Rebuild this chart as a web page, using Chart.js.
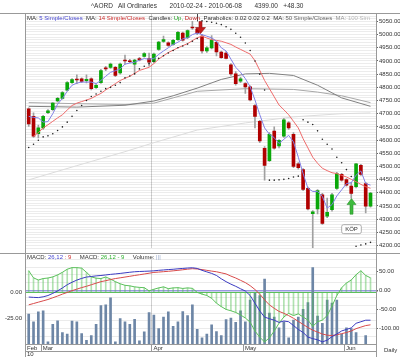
<!DOCTYPE html>
<html><head><meta charset="utf-8">
<script src="https://cdn.jsdelivr.net/npm/chart.js@4.4.1/dist/chart.umd.min.js"></script>
<style>
html,body{margin:0;padding:0;background:#fff;}
body{width:400px;height:357px;position:relative;overflow:hidden;font-family:"Liberation Sans",Arial,sans-serif;}
.t{position:absolute;white-space:pre;font-size:6px;line-height:7px;color:#333;}
.hl{position:absolute;height:1px;background:#999;}
.vl{position:absolute;width:1px;background:#999;}
canvas{position:absolute;left:0;}
</style></head><body>
<canvas id="c1" width="400" height="253" style="top:0"></canvas>
<canvas id="c2" width="400" height="104" style="top:253px"></canvas>
<div class="hl" style="top:13px;left:0;width:400px"></div>
<div class="hl" style="top:253px;left:0;width:400px"></div>
<div class="hl" style="top:344px;left:25px;width:351px"></div>
<div class="hl" style="top:351px;left:25px;width:351px"></div>
<div class="vl" style="left:25px;top:13px;height:344px"></div>
<div class="vl" style="left:376px;top:13px;height:344px"></div>
<div class="t" style="top:2px;left:91px;font-size:6.5px">^AORD   All Ordinaries       2010-02-24 - 2010-06-08       4399.00   +48.30</div>
<div class="t" style="top:15px;left:27px">MA: <span style="color:#4646d0">5 Simple/Closes</span>  MA: <span style="color:#d03030">14 Simple/Closes</span>  Candles: <span style="color:#20a020">Up,</span> <span style="color:#c02020">Down</span>  Parabolics: 0.02 0.02 0.2  MA: <span style="color:#666">50 Simple/Closes</span>  <span style="color:#999">MA: </span><span style="color:#bbb">100 Sim</span></div>
<div class="t" style="top:254px;left:27px">MACD: <span style="color:#4646d0">26,12</span> <span style="color:#d03030">: 9</span>     MACD: <span style="color:#30b030">26,12 - 9</span>     Volume: <span style="color:#99aacc">|||</span></div>
<div class="t" style="top:351px;left:27px">10</div>
<div class="t" style="top:347px;left:384px">Daily</div>
<script>
// ---- price data (index 0 = 2010-02-24 ... 71 = 2010-06-08) ----
const opens  = [4718,4690,4624,4646,4704,4715,4748,4758,4789,4818,4830,4832,4825,4832,4799,4818,4872,4876,4876,4855,4901,4901,4888,4909,4917,4909,4897,4944,4974,4969,4963,4981,5006,4988,5029,5021,4994,4938,4950,4971,4934,4930,4885,4851,4823,4814,4802,4731,4671,4569,4522,4634,4578,4615,4665,4622,4510,4488,4417,4321,4339,4392,4311,4336,4417,4470,4450,4425,4423,4504,4435,4349];
const highs  = [4722,4703,4657,4694,4716,4742,4762,4784,4822,4833,4847,4836,4847,4836,4812,4868,4880,4892,4880,4892,4922,4906,4906,4914,4932,4930,4930,4975,4994,4973,4982,5012,5010,5018,5050,5025,5000,4955,4996,4975,4938,4936,4890,4860,4838,4818,4806,4735,4675,4575,4628,4650,4602,4682,4670,4628,4515,4492,4422,4332,4412,4398,4380,4398,4478,4474,4454,4440,4512,4508,4440,4402];
const lows   = [4652,4610,4608,4640,4700,4712,4745,4755,4786,4815,4814,4818,4817,4790,4796,4815,4863,4872,4840,4850,4888,4894,4851,4900,4914,4880,4893,4940,4970,4955,4960,4978,4975,4985,5020,5000,4930,4932,4946,4919,4910,4908,4845,4808,4818,4777,4748,4646,4590,4448,4518,4565,4570,4610,4640,4495,4490,4408,4335,4192,4320,4280,4306,4330,4413,4444,4425,4380,4418,4466,4324,4345];
const closes = [4661,4615,4646,4690,4711,4740,4758,4780,4818,4829,4828,4822,4830,4795,4808,4864,4870,4888,4845,4888,4900,4897,4903,4904,4928,4895,4926,4972,4981,4959,4978,5009,4979,5015,5025,5006,4938,4950,4979,4934,4913,4910,4851,4814,4832,4802,4752,4690,4597,4504,4622,4569,4599,4677,4646,4500,4495,4413,4339,4328,4408,4284,4326,4392,4473,4448,4429,4398,4510,4470,4349,4399];
const ma5    = [4690,4686,4684,4668,4670,4700,4736,4758,4785,4808,4816,4820,4820,4820,4814,4826,4842,4857,4863,4870,4888,4892,4895,4903,4909,4907,4909,4925,4938,4950,4963,4971,4984,4988,5000,5006,5000,4994,4988,4975,4950,4938,4907,4876,4857,4833,4802,4752,4696,4646,4622,4609,4587,4603,4618,4593,4535,4473,4417,4405,4405,4386,4342,4355,4388,4411,4435,4438,4467,4483,4435,4429];
const ma14   = [null,4615,4628,4646,4658,4671,4684,4696,4714,4731,4740,4746,4752,4758,4768,4777,4790,4802,4814,4826,4834,4842,4853,4864,4870,4876,4890,4907,4920,4932,4941,4950,4958,4966,4977,4988,4994,4987,4981,4978,4975,4969,4963,4953,4944,4935,4926,4901,4864,4826,4795,4764,4733,4715,4696,4671,4646,4605,4570,4535,4512,4493,4484,4476,4473,4466,4460,4451,4442,4432,4423,4417];
const sar    = [4572,4584,4599,4612,4616,4624,4636,4650,4668,4690,4712,4731,4750,4765,4775,4785,4795,4800,4808,4818,4836,4843,4851,4870,4880,4890,4900,4910,4920,4930,4940,4950,4957,4964,4975,4985,5052,5050,5047,5043,5038,5030,5020,5005,4990,4968,4940,4900,4850,4790,4448,4448,4449,4451,4454,4460,4463,4677,4668,4659,4635,4603,4584,4566,4535,4514,4488,4462,4197,4202,4206,4212];
const ma50Idx  = [0,10,20,26,30,35,40,45,50,55,60,65,71];
const ma50Val  = [4728,4725,4732,4748,4768,4797,4830,4851,4853,4845,4808,4760,4728];
const ma100Idx = [0,10,20,26,30,35,45,55,60,65,71];
const ma100Val = [4742,4738,4735,4740,4760,4785,4795,4792,4782,4768,4742];
const ma200Idx = [0,10,20,26,35,45,55,65,71];
const ma200Val = [4449,4503,4556,4590,4638,4665,4688,4700,4703];
// ---- lower panel ----
const macd   = [-17.6,-18.5,-19,-17,-13.7,-8,-1.6,6,14.5,21,26.6,31,34.5,36,37.5,38.6,40,41.5,42.7,44,45.5,47,48.3,49,49.5,50,50.7,52,53,54,54.8,56,57,58,58.7,57,52,48,44,38.6,30,22.5,16,10.4,4,-2,-13.7,-33.8,-53.9,-70,-74,-78,-83.7,-80,-82,-91.8,-102,-110,-122,-126,-129,-134.5,-130,-120.8,-114,-106,-102,-98,-86,-82,-78,-78];
const signal = [-37.9,-34.5,-31,-27.5,-24,-19.5,-15,-10,-5.6,-1,3,7,10.4,14.5,18.5,22.5,25,28,30.6,32.5,34.5,36.5,38.6,40.5,42.5,44.5,46.6,47.5,48.5,49.5,50.7,52,53.5,55,56.3,55.5,54,52,50,48.3,45.5,42.7,37,32,26,20,12,2,-10,-25,-38,-47,-55,-60,-66,-73,-81,-89,-97,-104,-109,-114,-117,-118,-116,-113,-110,-106,-100,-96,-92,-90];
const hist   = [20.5,13.7,11.6,13,13.5,14.6,16.5,19,22,23.5,23.5,23,19,14.6,13.4,13,14.5,12.5,10,8,6.5,6,5,4.5,4.2,1.2,2.7,4,5,3.3,4,4.2,3.5,4,3.6,-0.3,-2,-3.3,-6,-10.7,-14,-16.7,-18,-19.6,-22,-25,-29,-37.5,-43.5,-48,-44,-37.5,-30,-24,-20.5,-22.6,-21,-24,-27,-33,-28.6,-27,-22.6,-13.6,-3.3,4.2,8.7,11.6,16.7,20.5,16,13.7];
const volume = [323,240,347,357,23,213,250,123,107,247,240,113,40,90,213,413,423,497,23,273,240,213,267,33,130,340,313,167,290,347,190,240,350,307,423,157,67,107,207,133,90,263,280,233,357,240,473,547,523,700,333,290,173,240,67,257,290,373,447,823,300,223,473,440,473,107,173,167,123,null,90,null];
// ---- axis / label data ----
const priceTicks = {min:4190, max:5080, step:10, labelEvery:50};
const monthNames = ['Feb','Mar','Apr','May','Jun'];
const monthStarts = [-0.77, 2.5, 25.5, 44.5, 65.5];
const quarterLine = 25.5;
const buyIdx = 67, buyTip = 4378, buyBase = 4319, buyLabelVal = 4262, buyLabel = 'KÖP';
const sellIdx = 35.6, sellTip = 5004, sellTop = 5050, sellLineTop = 5080;

const X_MIN = -0.77, X_MAX = 72.14;
const pts = (arr) => arr.map((v, i) => ({x: i, y: v}));
const sparse = (ix, vals) => ix.map((i, k) => ({x: i, y: vals[k]}));

const annot = {
  id: 'annot',
  afterDatasetsDraw(chart) {
    const {ctx, scales: {x, y}} = chart;
    ctx.save();
    const ax = Math.round(x.getPixelForValue(buyIdx)) + 0.5;
    const yt = y.getPixelForValue(buyTip), yb = y.getPixelForValue(buyBase);
    ctx.fillStyle = '#3dbb3d'; ctx.strokeStyle = '#2a8f2a'; ctx.lineWidth = 0.6;
    ctx.beginPath();
    ctx.moveTo(ax, yt); ctx.lineTo(ax + 4.5, yt + 6); ctx.lineTo(ax + 1.5, yt + 6);
    ctx.lineTo(ax + 1.5, yb); ctx.lineTo(ax - 1.5, yb); ctx.lineTo(ax - 1.5, yt + 6);
    ctx.lineTo(ax - 4.5, yt + 6); ctx.closePath(); ctx.fill(); ctx.stroke();
    const ky = y.getPixelForValue(buyLabelVal);
    ctx.font = '6px "Liberation Sans", Arial';
    const w = ctx.measureText(buyLabel).width + 7, h = 9;
    ctx.beginPath();
    ctx.roundRect(ax - w / 2, ky - h / 2, w, h, 2);
    ctx.fillStyle = '#fff'; ctx.fill(); ctx.strokeStyle = '#999'; ctx.lineWidth = 0.8; ctx.stroke();
    ctx.fillStyle = '#333'; ctx.textAlign = 'center'; ctx.textBaseline = 'middle';
    ctx.fillText(buyLabel, ax, ky + 0.5);
    const sx = Math.round(x.getPixelForValue(sellIdx)) + 0.5;
    const st = y.getPixelForValue(sellTop), sb = y.getPixelForValue(sellTip), sl = y.getPixelForValue(sellLineTop);
    ctx.strokeStyle = '#444'; ctx.lineWidth = 1;
    ctx.beginPath(); ctx.moveTo(sx - 3, sl); ctx.lineTo(sx - 3, st); ctx.stroke();
    ctx.fillStyle = '#c41a1a'; ctx.strokeStyle = '#8a0c0c'; ctx.lineWidth = 0.6;
    ctx.beginPath();
    ctx.moveTo(sx, sb); ctx.lineTo(sx + 5, sb - 6); ctx.lineTo(sx + 1.5, sb - 6);
    ctx.lineTo(sx + 1.5, st); ctx.lineTo(sx - 1.5, st); ctx.lineTo(sx - 1.5, sb - 6);
    ctx.lineTo(sx - 5, sb - 6); ctx.closePath(); ctx.fill(); ctx.stroke();
    ctx.restore();
  }
};

const seps = {
  id: 'seps',
  afterDraw(chart) {
    const {ctx, scales: {x}, chartArea} = chart;
    ctx.save(); ctx.strokeStyle = '#999'; ctx.lineWidth = 1;
    monthStarts.slice(1).forEach(v => {
      const px = Math.round(x.getPixelForValue(v)) + 0.5;
      ctx.beginPath(); ctx.moveTo(px, chartArea.bottom); ctx.lineTo(px, chartArea.bottom + 7); ctx.stroke();
    });
    ctx.restore();
  }
};

const font6 = {family: '"Liberation Sans", Arial, sans-serif', size: 6};

new Chart(document.getElementById('c1'), {
  type: 'bar',
  data: {datasets: [
    {type: 'line', data: sparse(ma200Idx, ma200Val), borderColor: '#dcdcdc', borderWidth: 1, pointRadius: 0, order: 8},
    {type: 'line', data: sparse(ma100Idx, ma100Val), borderColor: '#a8a8a8', borderWidth: 1, pointRadius: 0, order: 7},
    {type: 'line', data: sparse(ma50Idx, ma50Val), borderColor: '#808080', borderWidth: 1, pointRadius: 0, order: 6},
    {type: 'bar', data: lows.map((l, i) => ({x: i, y: [l, highs[i]]})), backgroundColor: '#a0a0a0', barThickness: 1, grouped: false, order: 5},
    {type: 'bar', data: opens.map((o, i) => ({x: i, y: [o, closes[i]]})),
      backgroundColor: opens.map((o, i) => closes[i] >= o ? '#0aa80a' : '#b00000'),
      barThickness: 3, grouped: false, minBarLength: 1, order: 4},
    {type: 'line', data: pts(ma14), borderColor: '#ee6a6a', borderWidth: 1, pointRadius: 0, order: 3},
    {type: 'line', data: pts(ma5), borderColor: '#8080e6', borderWidth: 1, pointRadius: 0, order: 2},
    {type: 'line', data: pts(sar), showLine: false, pointRadius: 0.8, pointBorderWidth: 0, pointBackgroundColor: '#222', order: 1}
  ]},
  options: {
    responsive: false, animation: false, events: [],
    layout: {padding: {left: 25, top: 13, right: 0, bottom: 0}},
    plugins: {legend: {display: false}, tooltip: {enabled: false}},
    scales: {
      x: {type: 'linear', offset: false, min: X_MIN, max: X_MAX, ticks: {display: false},
          grid: {offset: false, drawTicks: false, color: c => (c.tick && c.tick.value === quarterLine) ? '#d0d0d0' : 'rgba(0,0,0,0)'},
          border: {display: false},
          afterBuildTicks: s => { s.ticks = [{value: quarterLine}]; },
          afterFit: s => { s.height = 0; }},
      y: {position: 'right', min: 4189, max: 5082,
          afterBuildTicks: s => { const t = []; for (let v = priceTicks.min; v <= priceTicks.max; v += priceTicks.step) t.push({value: v}); s.ticks = t; },
          ticks: {autoSkip: false, font: font6, color: '#333', padding: 1,
                  callback: v => (v % priceTicks.labelEvery === 0) ? v.toFixed(2) : ''},
          grid: {color: 'rgba(0,0,0,0.075)', tickLength: 2,
                 tickColor: c => (c.tick && c.tick.value % priceTicks.labelEvery === 0) ? '#666' : 'rgba(0,0,0,0)'},
          border: {display: false},
          afterFit: s => { s.width = 24; }}
    }
  },
  plugins: [annot]
});

new Chart(document.getElementById('c2'), {
  type: 'bar',
  data: {datasets: [
    {type: 'bar', data: pts(volume), yAxisID: 'yv', backgroundColor: '#6d86a6', barThickness: 2, grouped: false, order: 6},
    {type: 'bar', data: pts(hist), yAxisID: 'yh', backgroundColor: 'rgba(80,190,80,0.45)', barThickness: 1, grouped: false, order: 5},
    {type: 'line', data: pts(hist), yAxisID: 'yh', borderColor: '#5cc05c', borderWidth: 1, pointRadius: 0, order: 4},
    {type: 'line', data: pts(signal), yAxisID: 'ym', borderColor: '#d84a4a', borderWidth: 1, pointRadius: 0, order: 3},
    {type: 'line', data: pts(macd), yAxisID: 'ym', borderColor: '#3a3ac0', borderWidth: 1, pointRadius: 0, order: 2}
  ]},
  options: {
    responsive: false, animation: false, events: [],
    layout: {padding: {left: 0, top: 0, right: 0, bottom: 0}},
    plugins: {legend: {display: false}, tooltip: {enabled: false}},
    scales: {
      x: {type: 'linear', offset: false, min: X_MIN, max: X_MAX,
          afterBuildTicks: s => { s.ticks = monthStarts.map(v => ({value: v})); },
          ticks: {autoSkip: false, maxRotation: 0, align: 'start', labelOffset: 2, padding: 1, font: font6, color: '#333',
                  callback: (v, i) => monthNames[i]},
          grid: {offset: false, drawTicks: false, color: c => (c.tick && c.tick.value === quarterLine) ? '#d0d0d0' : 'rgba(0,0,0,0)'},
          border: {display: false},
          afterFit: s => { s.height = 13; }},
      yh: {position: 'left', min: -50, max: 31.25,
           afterBuildTicks: s => { s.ticks = [{value: 0}, {value: -25}]; },
           ticks: {font: font6, color: '#333', padding: 3, callback: v => v.toFixed(2)},
           grid: {drawTicks: false, color: c => (c.tick && c.tick.value === 0) ? '#5cc05c' : 'rgba(0,0,0,0)'},
           border: {display: false},
           afterFit: s => { s.width = 25; }},
      ym: {position: 'right', min: -140, max: 80,
           afterBuildTicks: s => { const t = []; for (let v = -140; v <= 80; v += 10) t.push({value: v}); s.ticks = t; },
           ticks: {autoSkip: false, font: font6, color: '#333', padding: 1,
                   callback: v => (v % 50 === 0) ? v.toFixed(2) : ''},
           grid: {tickLength: 2,
                  color: c => !c.tick ? 'rgba(0,0,0,0)' : (c.tick.value === 0 ? '#9a9ae0' : (c.tick.value % 20 === 0 ? 'rgba(0,0,0,0.08)' : 'rgba(0,0,0,0)')),
                  lineWidth: c => (c.tick && c.tick.value === 0) ? 1.5 : 1,
                  tickColor: c => (c.tick && c.tick.value % 50 === 0) ? '#666' : 'rgba(0,0,0,0)'},
           border: {display: false},
           afterFit: s => { s.width = 24; }},
      yv: {display: false, min: 0, max: 910}
    }
  },
  plugins: [seps]
});
</script>
</body></html>
